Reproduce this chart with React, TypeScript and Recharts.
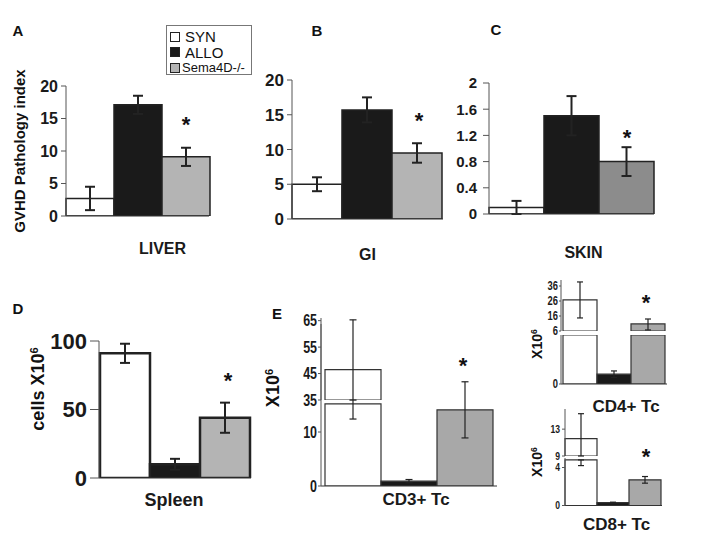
import React from 'react';
import { BarChart, Bar, XAxis, YAxis, ErrorBar, Legend } from 'recharts';

// group order used in every panel: SYN, ALLO, Sema4D-/-
const seriesNames = ['SYN', 'ALLO', 'Sema4D-/-'];

// A-C: GVHD pathology index
const liverMean = [2.7, 17.1, 9.1];
const liverErr = [1.8, 1.4, 1.4];
const giMean = [5.0, 15.7, 9.5];
const giErr = [1.0, 1.8, 1.4];
const skinMean = [0.1, 1.5, 0.8];
const skinErr = [0.1, 0.3, 0.22];

// D: spleen cells x10^6
const spleenMean = [91, 10, 44];
const spleenErr = [7, 4, 11];

// E: broken axes, drawn as an upper and a lower segment
const cd3Upper = [46.5, null, null];
const cd3UpperErr = [[11.5, 18.8], null, null];
const cd3Lower = [15.2, 0.9, 14.1];
const cd3LowerErr = [[2.8, 0.8], 0.3, 5.2];

const cd4Upper = [26.7, null, 10.7];
const cd4UpperErr = [12, null, [4, 3.3]];
const cd4Lower = [6, 1.2, 6];
const cd4LowerErr = [null, 0.4, null];

const cd8Upper = [11.6, null, null];
const cd8UpperErr = [[2.6, 3.7], null, null];
const cd8Lower = [4.8, 0.3, 2.7];
const cd8LowerErr = [[0.6, 0], 0.05, 0.35];

const ARIAL = "'Liberation Sans', Arial, sans-serif";

const toRow = (name: string, mean: any[], err: any[]) => ({
  name,
  syn: mean[0],
  allo: mean[1],
  sema: mean[2],
  synErr: err[0],
  alloErr: err[1],
  semaErr: err[2],
});

const renderLegend = (props: any) => {
  const items = [...(props.payload || [])].sort(
    (a: any, b: any) => seriesNames.indexOf(a.value) - seriesNames.indexOf(b.value)
  );
  return (
    <div
      style={{
        border: '1px solid #777',
        background: '#fff',
        padding: '3px 3px',
        width: 86,
        height: 50,
        boxSizing: 'border-box',
        fontFamily: ARIAL,
        color: '#111',
      }}
    >
      {items.map((entry: any, i: number) => (
        <div key={i} style={{ display: 'flex', alignItems: 'center', height: 15.5, fontSize: i === 2 ? 13 : 15, lineHeight: 1 }}>
          <span
            style={{
              display: 'inline-block',
              width: 8,
              height: 8,
              background: entry.color,
              border: '1px solid #222',
              marginRight: i === 2 ? 2 : 5,
              flex: 'none',
            }}
          />
          {entry.value}
        </div>
      ))}
    </div>
  );
};

type PanelProps = {
  axisX: number;
  plotRight: number;
  plotTop: number;
  plotBottom: number;
  domain: [number, number];
  ticks: number[];
  row: any;
  fills: string[];
  stroke?: string;
  strokeWidth: number;
  errWidth: number;
  errStroke: number;
  font: { size: number; weight: string; scaleX: number };
  tickSize: number;
  tickMargin: number;
  yW: number;
  catGap: number;
  xLabel?: { dx: number; margin: number; size: number };
  mt?: number;
  mr?: number;
  legend?: boolean;
};

function Panel(p: PanelProps) {
  const mt = p.mt ?? 16;
  const mr = p.mr ?? 10;
  const xl = p.xLabel;
  const xH = xl ? 60 : 0;
  const mb = xl ? 0 : 12;
  const left = p.axisX - p.yW;
  const top = p.plotTop - mt;
  const width = p.plotRight + mr - left;
  const height = mt + (p.plotBottom - p.plotTop) + xH + mb;
  const keys = ['syn', 'allo', 'sema'];
  const CatTick = (t: any) => (
    <text
      x={t.x + (xl ? xl.dx : 0)}
      y={t.y}
      dy="0.71em"
      textAnchor="middle"
      fontFamily={ARIAL}
      fontWeight="bold"
      fontSize={xl ? xl.size : 16}
      fill="#1a1a1a"
    >
      {t.payload.value}
    </text>
  );
  const ValTick = (t: any) => (
    <g transform={`translate(${t.x},${t.y}) scale(${p.font.scaleX},1)`}>
      <text
        x={0}
        y={0}
        dy="0.355em"
        textAnchor="end"
        fontFamily={ARIAL}
        fontWeight={p.font.weight}
        fontSize={p.font.size}
        fill="#1a1a1a"
      >
        {t.payload.value}
      </text>
    </g>
  );
  return (
    <div style={{ position: 'absolute', left, top }}>
      <BarChart
        width={width}
        height={height}
        data={[p.row]}
        margin={{ top: mt, right: mr, left: 0, bottom: mb }}
        barCategoryGap={p.catGap}
        barGap={0}
      >
        <XAxis
          dataKey="name"
          hide={!xl}
          height={xH}
          axisLine={{ stroke: '#333' }}
          tickLine={false}
          tickSize={0}
          tickMargin={xl ? xl.margin : 0}
          tick={CatTick}
        />
        <YAxis
          type="number"
          width={p.yW}
          domain={p.domain}
          ticks={p.ticks}
          interval={0}
          allowDataOverflow
          axisLine={{ stroke: '#555' }}
          tickLine={{ stroke: '#555' }}
          tickSize={p.tickSize}
          tickMargin={p.tickMargin}
          tick={ValTick}
        />
        {keys.map((k, i) => (
          <Bar
            key={k}
            dataKey={k}
            name={seriesNames[i]}
            fill={p.fills[i]}
            stroke={p.stroke ?? '#222'}
            strokeWidth={p.strokeWidth}
            isAnimationActive={false}
          >
            <ErrorBar
              dataKey={k + 'Err'}
              width={p.errWidth}
              stroke="#222"
              strokeWidth={p.errStroke}
              direction="y"
              isAnimationActive={false}
            />
          </Bar>
        ))}
        {p.legend && (
          <Legend
            layout="vertical"
            align="center"
            verticalAlign="middle"
            content={renderLegend}
            wrapperStyle={{ left: 160, top: 5, width: 86, height: 50 }}
          />
        )}
      </BarChart>
    </div>
  );
}

const Txt = ({ x, y, size, children, rotate, weight = 'bold' }: any) => (
  <div
    style={{
      position: 'absolute',
      left: x,
      top: y,
      transform: `translate(-50%, -50%)${rotate ? ' rotate(-90deg)' : ''}`,
      fontSize: size,
      fontWeight: weight,
      fontFamily: ARIAL,
      whiteSpace: 'nowrap',
      lineHeight: 1,
      color: '#111',
    }}
  >
    {children}
  </div>
);

const Sup6 = () => <span style={{ fontSize: '0.62em', verticalAlign: '0.6em' }}>6</span>;

const Star = ({ x, y }: any) => (
  <div
    style={{
      position: 'absolute',
      left: x,
      top: y - 6,
      transform: 'translateX(-50%)',
      fontSize: 22,
      fontWeight: 'bold',
      fontFamily: ARIAL,
      lineHeight: 1,
      color: '#111',
    }}
  >
    *
  </div>
);

const lightFills = ['#ffffff', '#1a1a1a', '#b4b4b4'];
const skinFills = ['#ffffff', '#1a1a1a', '#8c8c8c'];
const eFills = ['#ffffff', '#1a1a1a', '#a8a8a8'];

const bold = (size: number) => ({ size, weight: 'bold', scaleX: 1 });
const narrow = (size: number) => ({ size, weight: 'bold', scaleX: 0.78 });

export default function App() {
  return (
    <div
      style={{
        position: 'absolute',
        left: 0,
        top: 0,
        width: 720,
        height: 538,
        background: '#fff',
        overflow: 'hidden',
        fontFamily: ARIAL,
      }}
    >
      {/* A: liver */}
      <Panel
        axisX={66} plotRight={209} plotTop={86} plotBottom={216}
        domain={[0, 20]} ticks={[0, 5, 10, 15, 20]}
        row={toRow('LIVER', liverMean, liverErr)}
        fills={lightFills} strokeWidth={1.5} errWidth={5} errStroke={2}
        font={bold(16)} tickSize={5} tickMargin={3} yW={60} catGap={0}
        xLabel={{ dx: 25, margin: 27, size: 16 }} mt={66} mr={51} legend
      />
      {/* B: GI */}
      <Panel
        axisX={292} plotRight={443} plotTop={80} plotBottom={219}
        domain={[0, 20]} ticks={[0, 5, 10, 15, 20]}
        row={toRow('GI', giMean, giErr)}
        fills={lightFills} strokeWidth={1.5} errWidth={5} errStroke={2}
        font={bold(17)} tickSize={5} tickMargin={3} yW={60} catGap={0}
        xLabel={{ dx: 0, margin: 30, size: 16 }}
      />
      {/* C: skin */}
      <Panel
        axisX={489} plotRight={654} plotTop={83} plotBottom={214}
        domain={[0, 2]} ticks={[0, 0.4, 0.8, 1.2, 1.6, 2]}
        row={toRow('SKIN', skinMean, skinErr)}
        fills={skinFills} strokeWidth={1.5} errWidth={5} errStroke={2}
        font={bold(15)} tickSize={6} tickMargin={6} yW={60} catGap={0}
        xLabel={{ dx: 12, margin: 33, size: 16 }}
      />
      {/* D: spleen */}
      <Panel
        axisX={99} plotRight={251} plotTop={341} plotBottom={478}
        domain={[0, 100]} ticks={[0, 50, 100]}
        row={toRow('Spleen', spleenMean, spleenErr)}
        fills={lightFills} strokeWidth={2.5} errWidth={5} errStroke={2}
        font={bold(22)} tickSize={9} tickMargin={3} yW={80} catGap={1}
        xLabel={{ dx: -1, margin: 15, size: 18 }} mt={20}
      />
      {/* E: CD3+ */}
      <Panel
        axisX={321} plotRight={497} plotTop={324} plotBottom={486}
        domain={[0, 30]} ticks={[0, 10]}
        row={toRow('CD3+ Tc', cd3Lower, cd3LowerErr)}
        fills={eFills} stroke="#333" strokeWidth={1.2} errWidth={3.5} errStroke={1.2}
        font={narrow(16)} tickSize={3} tickMargin={1} yW={50} catGap={4}
        xLabel={{ dx: 7, margin: 7, size: 17 }}
      />
      <Panel
        axisX={321} plotRight={497} plotTop={318} plotBottom={400}
        domain={[35, 66]} ticks={[35, 45, 55, 65]}
        row={toRow('CD3+ Tc', cd3Upper, cd3UpperErr)}
        fills={eFills} stroke="#333" strokeWidth={1.2} errWidth={3.5} errStroke={1.2}
        font={narrow(16)} tickSize={3} tickMargin={1} yW={50} catGap={4}
      />
      {/* E: CD4+ */}
      <Panel
        axisX={561} plotRight={667} plotTop={335} plotBottom={384}
        domain={[0, 6]} ticks={[0]}
        row={toRow('CD4+ Tc', cd4Lower, cd4LowerErr)}
        fills={eFills} stroke="#333" strokeWidth={1.2} errWidth={3} errStroke={1.2}
        font={narrow(12)} tickSize={2} tickMargin={1} yW={40} catGap={2}
        xLabel={{ dx: 12, margin: 16, size: 17 }}
      />
      <Panel
        axisX={561} plotRight={667} plotTop={280} plotBottom={331}
        domain={[6, 40]} ticks={[6, 16, 26, 36]}
        row={toRow('CD4+ Tc', cd4Upper, cd4UpperErr)}
        fills={eFills} stroke="#333" strokeWidth={1.2} errWidth={3} errStroke={1.2}
        font={narrow(12)} tickSize={2} tickMargin={1} yW={40} catGap={2}
      />
      {/* E: CD8+ */}
      <Panel
        axisX={565} plotRight={662} plotTop={457.5} plotBottom={505}
        domain={[0, 5]} ticks={[0, 4]}
        row={toRow('CD8+ Tc', cd8Lower, cd8LowerErr)}
        fills={eFills} stroke="#333" strokeWidth={1.2} errWidth={3} errStroke={1.2}
        font={narrow(11)} tickSize={3} tickMargin={2} yW={40} catGap={0}
        xLabel={{ dx: 3, margin: 12, size: 17 }}
      />
      <Panel
        axisX={565} plotRight={662} plotTop={409} plotBottom={456}
        domain={[9, 16]} ticks={[9, 13]}
        row={toRow('CD8+ Tc', cd8Upper, cd8UpperErr)}
        fills={eFills} stroke="#333" strokeWidth={1.2} errWidth={3} errStroke={1.2}
        font={narrow(11)} tickSize={3} tickMargin={2} yW={40} catGap={0}
      />

      {/* panel letters */}
      <Txt x={18} y={30} size={15}>A</Txt>
      <Txt x={317} y={30} size={15}>B</Txt>
      <Txt x={496} y={29} size={15}>C</Txt>
      <Txt x={18} y={308} size={15}>D</Txt>
      <Txt x={277} y={313} size={15}>E</Txt>

      {/* y-axis titles */}
      <Txt x={19} y={151} size={15} rotate>GVHD Pathology index</Txt>
      <Txt x={38} y={389} size={18} rotate>cells X10<Sup6 /></Txt>
      <Txt x={273} y={388} size={18} rotate>X10<Sup6 /></Txt>
      <Txt x={537} y={344} size={14} rotate>X10<Sup6 /></Txt>
      <Txt x={537} y={462} size={14} rotate>X10<Sup6 /></Txt>

      {/* significance marks */}
      <Star x={186} y={120} />
      <Star x={419} y={116} />
      <Star x={627} y={133} />
      <Star x={228} y={376} />
      <Star x={463} y={361} />
      <Star x={646} y={298} />
      <Star x={646} y={452} />
    </div>
  );
}
